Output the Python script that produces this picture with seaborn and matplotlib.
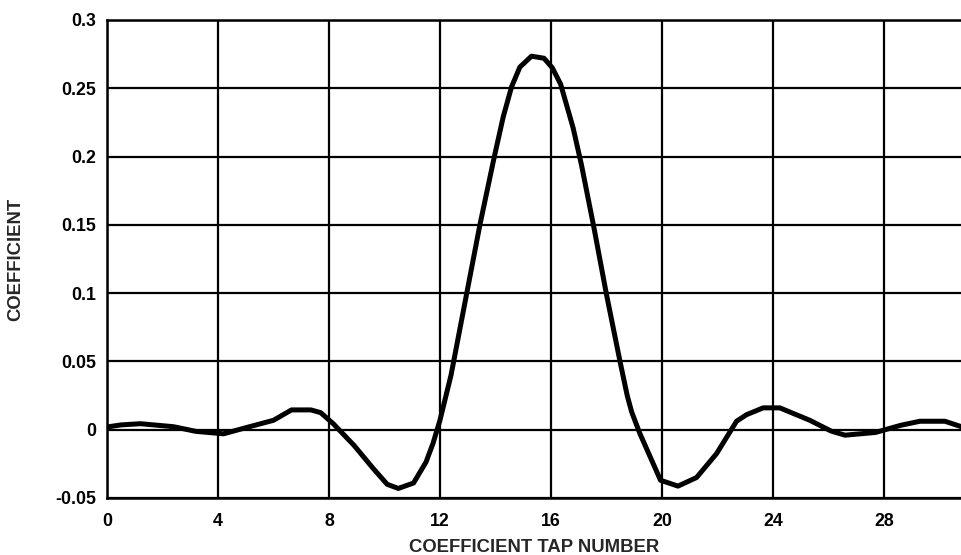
import matplotlib
matplotlib.use("Agg")
import matplotlib.pyplot as plt
import seaborn as sns
import pandas as pd

# Data
tap = [0.0, 0.5, 1.2, 2.4, 3.2, 4.2, 5.1, 6.0, 6.65, 7.35, 7.7, 8.15, 8.9, 9.6,
       10.1, 10.5, 11.05, 11.5, 11.75, 12.0, 12.4, 12.96, 13.44, 13.95, 14.28,
       14.58, 14.88, 15.3, 15.75, 16.05, 16.35, 16.8, 17.1, 17.55, 18.0, 18.49,
       18.75, 18.91, 19.2, 19.95, 20.58, 21.25, 21.97, 22.69, 23.05, 23.65,
       24.25, 25.33, 26.1, 26.6, 27.7, 28.1, 28.6, 29.3, 30.2, 30.75, 31.0]
coef = [0.0020, 0.0035, 0.0044, 0.0022, -0.0012, -0.0030, 0.0020, 0.0069,
        0.0145, 0.0145, 0.0125, 0.0045, -0.0114, -0.0285, -0.0400, -0.0430,
        -0.0390, -0.0236, -0.0100, 0.0069, 0.0400, 0.0993, 0.1500, 0.1990,
        0.2290, 0.2510, 0.2655, 0.2735, 0.2720, 0.2650, 0.2530, 0.2210,
        0.1940, 0.1480, 0.0993, 0.0500, 0.0250, 0.0130, -0.0025, -0.0370,
        -0.0413, -0.0350, -0.0175, 0.0062, 0.0110, 0.0160, 0.0160, 0.0069,
        -0.0010, -0.0040, -0.0020, 0.0003, 0.0032, 0.0062, 0.0062, 0.0025,
        0.0005]
xticks = [0, 4, 8, 12, 16, 20, 24, 28]
xtick_labels = ["0", "4", "8", "12", "16", "20", "24", "28"]
yticks = [-0.05, 0, 0.05, 0.1, 0.15, 0.2, 0.25, 0.3]
ytick_labels = ["-0.05", "0", "0.05", "0.1", "0.15", "0.2", "0.25", "0.3"]

df = pd.DataFrame({"tap": tap, "coef": coef})

sns.set_style("white")
plt.rcParams["font.family"] = ["Liberation Sans", "DejaVu Sans"]
plt.rcParams["font.weight"] = "bold"

fig = plt.figure(figsize=(9.61, 5.55), dpi=100)
ax = fig.add_axes([107 / 961, 1 - 498 / 555, 1 - 107 / 961, (498 - 20) / 555])

sns.lineplot(data=df, x="tap", y="coef", ax=ax, color="black", linewidth=3.6,
             solid_joinstyle="round", solid_capstyle="round", clip_on=True)

ax.set_xlim(0, 30.78)
ax.set_ylim(-0.05, 0.3)
ax.set_xticks(xticks)
ax.set_xticklabels(xtick_labels)
ax.set_yticks(yticks)
ax.set_yticklabels(ytick_labels)
ax.grid(True, color="black", linewidth=1.6)
ax.set_axisbelow(True)
ax.tick_params(axis="both", length=0, labelsize=12.8, colors="black")
ax.tick_params(axis="y", pad=8)
ax.tick_params(axis="x", pad=11)
for lab in ax.get_xticklabels() + ax.get_yticklabels():
    lab.set_fontweight("bold")

for side in ["left", "bottom", "top"]:
    ax.spines[side].set_visible(True)
    ax.spines[side].set_color("black")
    ax.spines[side].set_linewidth(1.8)
ax.spines["right"].set_visible(False)

ax.set_xlabel("COEFFICIENT TAP NUMBER", fontsize=13.3, fontweight="bold", labelpad=6)
ax.set_ylabel("COEFFICIENT", fontsize=13.3, fontweight="bold")
ax.yaxis.set_label_coords(-0.097, 0.5)

fig.savefig("out.png", dpi=100)
